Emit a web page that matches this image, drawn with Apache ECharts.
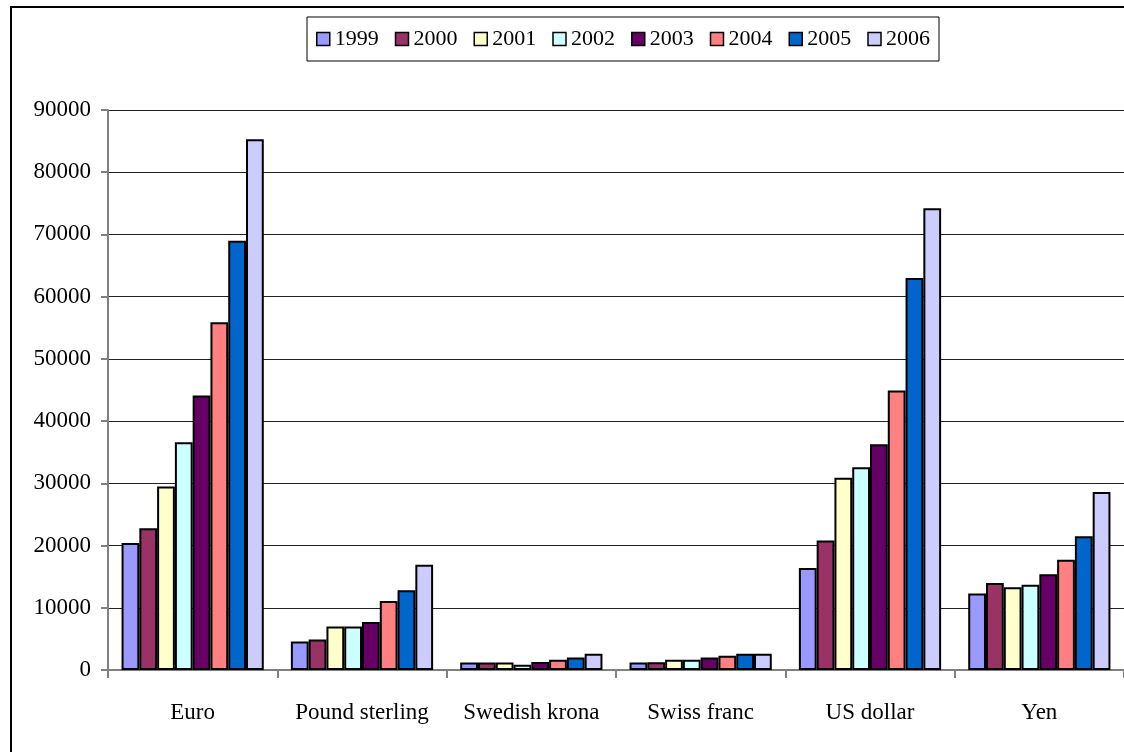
<!DOCTYPE html>
<html>
<head>
<meta charset="utf-8">
<script src="https://cdn.jsdelivr.net/npm/echarts@6/dist/echarts.min.js"></script>
<style>
html,body{margin:0;padding:0;background:#fff;}
#chart{width:1124px;height:752px;}
</style>
</head>
<body>
<div id="chart"></div>
<script>
const categories = ['Euro', 'Pound sterling', 'Swedish krona', 'Swiss franc', 'US dollar', 'Yen'];
const years = ['1999', '2000', '2001', '2002', '2003', '2004', '2005', '2006'];
const v1999 = [20400, 4600, 1200, 1200, 16400, 12300];
const v2000 = [22800, 4900, 1200, 1250, 20800, 14000];
const v2001 = [29500, 7000, 1200, 1650, 30900, 13300];
const v2002 = [36600, 7000, 850, 1650, 32600, 13700];
const v2003 = [44100, 7700, 1300, 2000, 36300, 15400];
const v2004 = [55900, 11100, 1650, 2300, 44900, 17700];
const v2005 = [69000, 12800, 2000, 2600, 63000, 21500];
const v2006 = [85300, 16900, 2600, 2600, 74200, 28600];
const seriesValues = [v1999, v2000, v2001, v2002, v2003, v2004, v2005, v2006];
const colors = ['#9999FF', '#993366', '#FFFFCC', '#CCFFFF', '#660066', '#FF8080', '#0066CC', '#CCCCFF'];
const yTicks = [0, 10000, 20000, 30000, 40000, 50000, 60000, 70000, 80000, 90000];

const font = '"Liberation Serif", "Times New Roman", serif';
const chart = echarts.init(document.getElementById('chart'), null, {renderer: 'canvas'});
chart.setOption({
  animation: false,
  backgroundColor: '#fff',
  graphic: [{
    type: 'rect',
    shape: {x: 11, y: 7, width: 1300, height: 900},
    style: {fill: 'none', stroke: '#000', lineWidth: 2},
    z: 100
  }],
  legend: {
    data: years,
    left: 307,
    top: 17,
    padding: [11, 9, 11, 9],
    borderColor: '#000',
    borderWidth: 1,
    itemWidth: 13,
    itemHeight: 13,
    itemGap: 16,
    icon: 'rect',
    itemStyle: {borderColor: '#000', borderWidth: 1.5},
    textStyle: {fontFamily: font, fontSize: 22, color: '#000', padding: [0, 0, 0, 0]}
  },
  grid: {left: 108, top: 110, width: 1020, height: 560, containLabel: false},
  xAxis: {
    type: 'category',
    data: categories,
    axisLine: {lineStyle: {color: '#808080', width: 2}},
    axisTick: {show: true, interval: 0, length: 8, lineStyle: {color: '#808080', width: 2}},
    axisLabel: {interval: 0, fontFamily: font, fontSize: 23, color: '#000', margin: 31}
  },
  yAxis: {
    type: 'value',
    min: yTicks[0],
    max: yTicks[yTicks.length - 1],
    interval: 10000,
    axisLine: {show: true, lineStyle: {color: '#808080', width: 2}},
    axisTick: {show: true, length: 7, lineStyle: {color: '#808080', width: 2}},
    axisLabel: {fontFamily: font, fontSize: 23, color: '#000', margin: 17, formatter: v => String(v)},
    splitLine: {lineStyle: {color: '#222', width: 1}}
  },
  series: years.map((y, i) => ({
    name: y,
    type: 'bar',
    data: seriesValues[i],
    barGap: '0%',
    barCategoryGap: '16%',
    itemStyle: {color: colors[i], borderColor: '#000', borderWidth: 2}
  }))
});
</script>
</body>
</html>
